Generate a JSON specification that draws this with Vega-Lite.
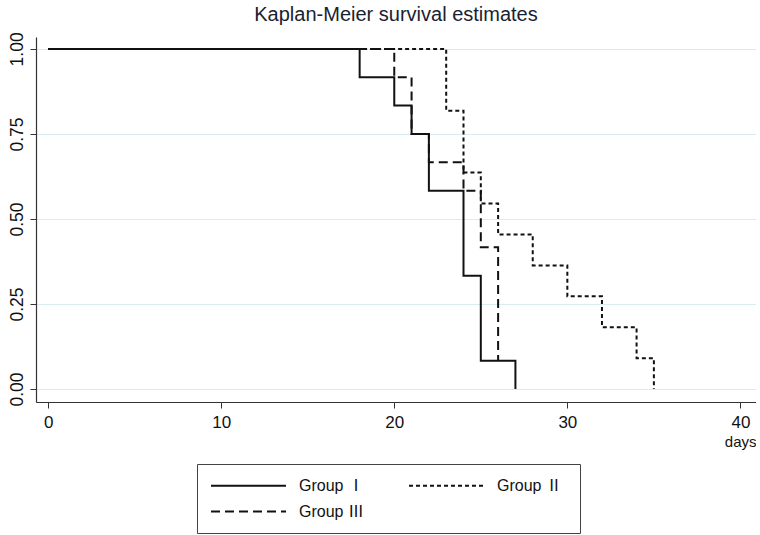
{
  "$schema": "https://vega.github.io/schema/vega-lite/v6.json",
  "width": 720,
  "height": 365,
  "padding": {"left": 8, "top": 4, "right": 0, "bottom": 0},
  "background": "white",
  "title": {"text": "Kaplan-Meier survival estimates", "font": "Liberation Sans", "fontSize": 20, "fontWeight": "normal", "color": "#1a2230", "offset": 7, "anchor": "middle"},
  "config": {"view": {"stroke": null}, "font": "Liberation Sans"},
  "data": {"values": [
    {"group": "Group  Ⅰ", "t": 0, "s": 1},
    {"group": "Group  Ⅰ", "t": 18, "s": 0.9167},
    {"group": "Group  Ⅰ", "t": 20, "s": 0.8333},
    {"group": "Group  Ⅰ", "t": 21, "s": 0.75},
    {"group": "Group  Ⅰ", "t": 22, "s": 0.5833},
    {"group": "Group  Ⅰ", "t": 24, "s": 0.3333},
    {"group": "Group  Ⅰ", "t": 25, "s": 0.0833},
    {"group": "Group  Ⅰ", "t": 27, "s": 0},
    {"group": "Group  Ⅱ", "t": 0, "s": 1},
    {"group": "Group  Ⅱ", "t": 23, "s": 0.8182},
    {"group": "Group  Ⅱ", "t": 24, "s": 0.6364},
    {"group": "Group  Ⅱ", "t": 25, "s": 0.5455},
    {"group": "Group  Ⅱ", "t": 26, "s": 0.4545},
    {"group": "Group  Ⅱ", "t": 28, "s": 0.3636},
    {"group": "Group  Ⅱ", "t": 30, "s": 0.2727},
    {"group": "Group  Ⅱ", "t": 32, "s": 0.1818},
    {"group": "Group  Ⅱ", "t": 34, "s": 0.0909},
    {"group": "Group  Ⅱ", "t": 35, "s": 0},
    {"group": "Group Ⅲ", "t": 0, "s": 1},
    {"group": "Group Ⅲ", "t": 20, "s": 0.9167},
    {"group": "Group Ⅲ", "t": 21, "s": 0.75},
    {"group": "Group Ⅲ", "t": 22, "s": 0.6667},
    {"group": "Group Ⅲ", "t": 24, "s": 0.5833},
    {"group": "Group Ⅲ", "t": 25, "s": 0.4167},
    {"group": "Group Ⅲ", "t": 26, "s": 0.0833}
  ]},
  "mark": {"type": "line", "interpolate": "step-after", "color": "#111111", "strokeWidth": 2},
  "encoding": {
    "x": {"field": "t", "type": "quantitative",
      "scale": {"domain": [-0.7, 40.9], "nice": false, "zero": false},
      "axis": {"values": [0, 10, 20, 30, 40], "title": "days", "titleAnchor": "end", "titleFontWeight": "normal", "titleFontSize": 15, "titleColor": "#111", "titlePadding": 4,
        "labelFontSize": 17, "labelColor": "#111", "labelPadding": 6, "tickSize": 6, "tickColor": "#333", "domainColor": "#333", "domainWidth": 1.2, "grid": false}},
    "y": {"field": "s", "type": "quantitative",
      "scale": {"domain": [-0.038, 1.035], "nice": false, "zero": false},
      "axis": {"values": [0, 0.25, 0.5, 0.75, 1], "format": ".2f", "title": null, "labelAngle": -90, "labelAlign": "center", "labelBaseline": "bottom", "labelFontSize": 17.5, "labelColor": "#111", "labelPadding": 4, "tickSize": 6, "tickColor": "#333", "domainColor": "#333", "domainWidth": 1.2,
        "grid": true, "gridColor": "#d9ecf2", "gridWidth": 1.2}},
    "strokeDash": {"field": "group", "type": "nominal",
      "scale": {"domain": ["Group  Ⅰ", "Group  Ⅱ", "Group Ⅲ"], "range": [[1, 0], [4, 3], [9, 5]]},
      "legend": {"title": null, "orient": "none", "legendX": 161, "legendY": 427, "direction": "horizontal", "columns": 2, "columnPadding": 36,
        "rowPadding": 9, "symbolType": "M-1,0H9", "symbolSize": 225, "symbolStrokeWidth": 2, "symbolStrokeColor": "#111", "labelFont": "Liberation Sans, Noto Sans CJK SC", "labelFontSize": 16, "labelColor": "#111", "labelOffset": 72,
        "strokeColor": "#444", "fillColor": "white", "padding": 13}}
  }
}
